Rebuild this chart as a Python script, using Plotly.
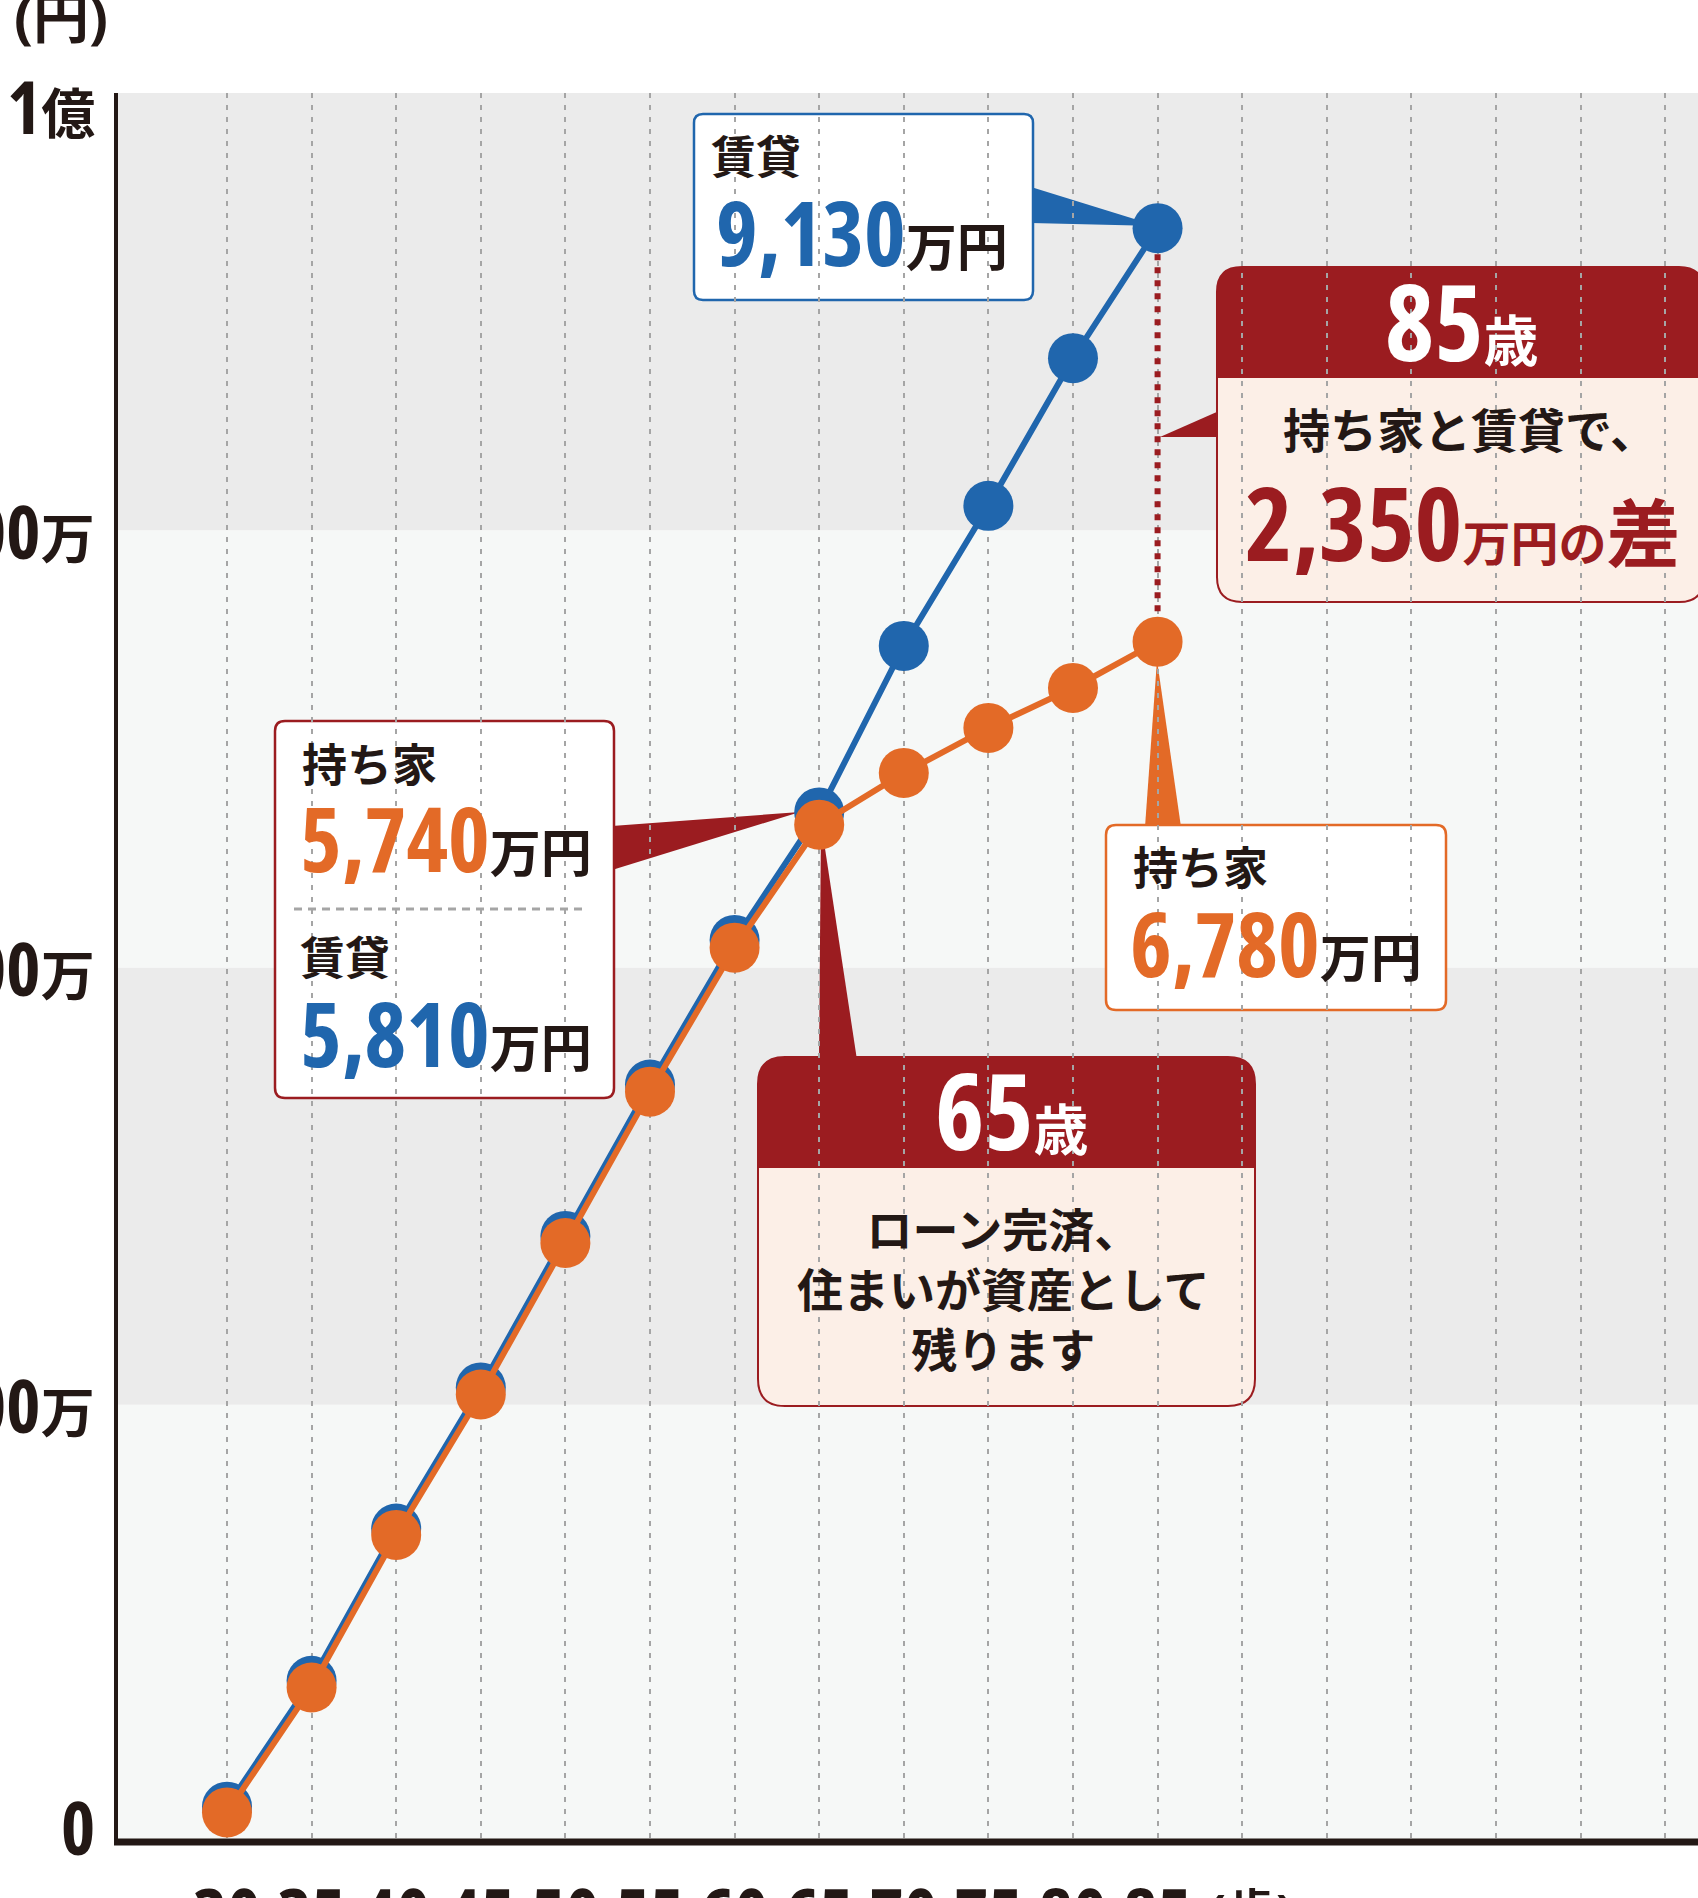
import plotly.graph_objects as go

# ---------------- data ----------------
ages = [30, 35, 40, 45, 50, 55, 60, 65, 70, 75, 80, 85]
rent_values = [160, 875, 1740, 2542, 3403, 4263, 5085, 5810, 6756, 7552, 8391, 9130]   # 賃貸 (万円)
own_values = [127, 837, 1704, 2502, 3363, 4223, 5041, 5740, 6034, 6290, 6517, 6780]    # 持ち家 (万円)
grid_ages = list(range(30, 120, 5))
x_tick_text = [str(a) if a <= 85 else "" for a in grid_ages]
y_label_values = [10000, 7500, 5000, 2500, 0]
y_label_text = ["1億", "7,500万", "5,000万", "2,500万", "0"]

# ---------------- styles ----------------
W, H = 1698, 1898
L, T, B = 116, 93, 1842
BLUE = "#2066ad"
ORANGE = "#e36a27"
DARKRED = "#9b1c20"
PINK = "#fcefe7"
INK = "#231815"
BAND_DARK = "#ebebeb"
BAND_LIGHT = "#f6f8f7"
FAM = '"Open Sans", "Noto Sans CJK JP", sans-serif'
COND = "font-stretch:75%"


def cond(s, extra=""):
    return f"<span style='{COND};{extra}'>{s}</span>" if s else ""


def PX(x):
    return (x - L) / (W - L)


def PY(y):
    return (B - y) / (B - T)


def pt(x, y):
    return f"{PX(x):.5f},{PY(y):.5f}"


def rrect(x0, y0, x1, y1, rt, rb):
    p = f"M {pt(x0 + rt, y0)} L {pt(x1 - rt, y0)} Q {pt(x1, y0)} {pt(x1, y0 + rt)} "
    p += f"L {pt(x1, y1 - rb)} "
    if rb:
        p += f"Q {pt(x1, y1)} {pt(x1 - rb, y1)} "
    p += f"L {pt(x0 + rb, y1)} "
    if rb:
        p += f"Q {pt(x0, y1)} {pt(x0, y1 - rb)} "
    p += f"L {pt(x0, y0 + rt)} Q {pt(x0, y0)} {pt(x0 + rt, y0)} Z"
    return p


def tri(a, b, c):
    return f"M {pt(*a)} L {pt(*b)} L {pt(*c)} Z"


shapes = []
for i in range(4):
    shapes.append(dict(type="rect", xref="paper", yref="paper", x0=0, x1=1,
                       y0=i * 0.25, y1=(i + 1) * 0.25, layer="below", line=dict(width=0),
                       fillcolor=BAND_LIGHT if i % 2 == 0 else BAND_DARK))


def path(p, fill, line_color=None, lw=0, layer="between"):
    shapes.append(dict(type="path", xref="paper", yref="paper", path=p, fillcolor=fill,
                       layer=layer, line=dict(color=line_color or fill, width=lw)))


# axis lines
shapes.append(dict(type="line", xref="paper", yref="paper", x0=PX(L - 2), x1=1.01, y0=PY(B), y1=PY(B),
                   line=dict(color=INK, width=7), layer="between"))
shapes.append(dict(type="line", xref="paper", yref="paper", x0=PX(L), x1=PX(L), y0=PY(B + 3), y1=1,
                   line=dict(color=INK, width=4), layer="between"))

# 賃貸 9,130 callout
path(tri((1031, 187), (1031, 223), (1157, 226)), BLUE)
path(rrect(694, 114, 1033, 300, 9, 9), "white", BLUE, 2.5)
# 85歳 callout + difference line
shapes.append(dict(type="line", xref="x", yref="y", x0=ages[-1], x1=ages[-1],
                   y0=rent_values[-1], y1=own_values[-1], layer="between",
                   line=dict(color=DARKRED, width=6, dash="6px,7px")))
path(tri((1219, 411), (1219, 437), (1160, 437)), DARKRED)
path(rrect(1217, 267, 1704, 602, 25, 25), PINK, DARKRED, 2)
path(rrect(1217, 267, 1704, 378, 25, 0), DARKRED)
# 持ち家 6,780 callout
path(tri((1157, 660), (1145, 827), (1181, 827)), ORANGE)
path(rrect(1106, 825, 1446, 1010, 10, 10), "white", ORANGE, 2.5)
# 65歳 left callout
path(tri((612, 826), (612, 870), (800, 812)), DARKRED)
path(rrect(275, 721, 614, 1098, 10, 10), "white", DARKRED, 2.5)
shapes.append(dict(type="line", xref="paper", yref="paper", x0=PX(294), x1=PX(587), y0=PY(909), y1=PY(909),
                   line=dict(color="#a5a5a5", width=3, dash="8px,6px"), layer="between"))
# 65歳 bottom callout
path(tri((821, 822), (819, 1060), (857, 1060)), DARKRED)
path(rrect(758, 1057, 1255, 1406, 27, 27), PINK, DARKRED, 2)
path(rrect(758, 1057, 1255, 1168, 27, 0), DARKRED)

annotations = []


def ann(x, y, text, size, color=INK, xanchor="left", yanchor="middle", align="left", **kw):
    annotations.append(dict(xref="paper", yref="paper", x=PX(x), y=PY(y), text=text,
                            showarrow=False, xanchor=xanchor, yanchor=yanchor, align=align,
                            font=dict(family=FAM, size=size, color=color), **kw))


def big(num, color, unit="万円", nsize=89):
    return (f"<b>{cond(num, f'color:{color};font-size:{nsize}px')}"
            f"<span style='color:{INK}'>{unit}</span></b>")


ann(709, 157, "<b>賃貸</b>", 45)
ann(714, 231, big("9,130", BLUE), 51)
ann(1462, 320, f"<b>{cond('85')}<span style='font-size:55px'>歳</span></b>", 105, "white", xanchor="center")
ann(1470, 430, "<b>持ち家と賃貸で、</b>", 47, xanchor="center")
ann(1462, 522, f"<b>{cond('2,350')}<span style='font-size:48px'>万円の</span>"
    f"<span style='font-size:74px'>差</span></b>", 102, DARKRED, xanchor="center")
ann(1131, 867, "<b>持ち家</b>", 45)
ann(1128, 942, big("6,780", ORANGE), 51)
ann(300, 764, "<b>持ち家</b>", 45)
ann(298, 837, big("5,740", ORANGE), 51)
ann(298, 958, "<b>賃貸</b>", 45)
ann(298, 1032, big("5,810", BLUE), 51)
ann(1012, 1109, f"<b>{cond('65')}<span style='font-size:55px'>歳</span></b>", 105, "white", xanchor="center")
ann(1003, 1289, "<b>ローン完済、<br>住まいが資産として<br>残ります</b>", 46, xanchor="center", align="center")

# y-axis labels on the nominal 0..1億 scale of the bands
yshifts = [-12, 0, 0, 0, 16]
for v, t, s in zip(y_label_values, y_label_text, yshifts):
    num = t.rstrip("億万")
    unit = t[len(num):]
    txt = cond(num) + (f"<span style='font-size:54px'>{unit}</span>" if unit else "")
    annotations.append(dict(xref="paper", yref="paper", x=PX(97), y=v / 10000, yshift=s,
                            text=f"<b>{txt}</b>", showarrow=False, xanchor="right", yanchor="middle",
                            font=dict(family=FAM, size=73, color=INK)))
ann(12, 16, "<b>(円)</b>", 56)
ann(1251, 1912, "<b>(歳)</b>", 50, xanchor="center")

fig = go.Figure()
fig.add_trace(go.Scatter(x=ages, y=rent_values, mode="lines+markers", name="賃貸",
                         line=dict(color=BLUE, width=6), marker=dict(size=50, color=BLUE),
                         cliponaxis=False))
fig.add_trace(go.Scatter(x=ages, y=own_values, mode="lines+markers", name="持ち家",
                         line=dict(color=ORANGE, width=6), marker=dict(size=50, color=ORANGE),
                         cliponaxis=False))

fig.update_layout(
    width=W, height=H, margin=dict(l=L, r=0, t=T, b=H - B, pad=0, autoexpand=False),
    paper_bgcolor="white", plot_bgcolor="white", showlegend=False,
    shapes=shapes, annotations=annotations,
    font=dict(family=FAM, color=INK),
    xaxis=dict(range=[23.44, 116.94], tickvals=grid_ages,
               ticktext=[f"<b>{cond(t)}</b>" for t in x_tick_text],
               showgrid=True, gridcolor="#a5a5a5", gridwidth=2, griddash="5px,7px",
               zeroline=False, showline=False, ticks="", ticklabelstandoff=26,
               tickangle=0, automargin=False,
               tickfont=dict(family=FAM, size=73, color=INK)),
    yaxis=dict(range=[-40.9, 9898], showgrid=False, zeroline=False, showticklabels=False,
               automargin=False),
)

fig.write_html("out.html", config={"displayModeBar": False},
               post_script="document.body.style.margin='0';document.body.style.overflow='hidden';")
